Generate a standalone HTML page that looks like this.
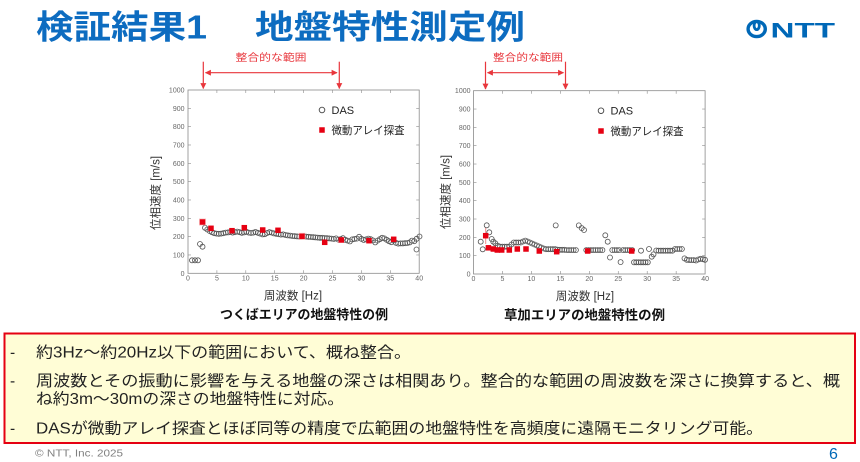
<!DOCTYPE html>
<html><head><meta charset="utf-8"><style>
html,body{margin:0;padding:0;background:#fff;width:860px;height:462px;overflow:hidden}
svg{display:block}
text{font-family:"Liberation Sans","Noto Sans CJK JP",sans-serif}
</style></head><body>
<svg width="860" height="462" viewBox="0 0 860 462" xmlns="http://www.w3.org/2000/svg">
<defs>
<rect id="sq" x="-2.75" y="-2.75" width="5.5" height="5.5" fill="#e60012"/>
<marker id="ah" viewBox="0 0 10 10" refX="9" refY="5" markerWidth="5" markerHeight="5" orient="auto-start-reverse"><path d="M0,0 L10,5 L0,10 z" fill="#e8363c"/></marker>
</defs>
<rect width="860" height="462" fill="#fff"/>

<!-- Title -->
<text x="36" y="38.5" font-size="33" font-weight="bold" fill="#0d6cc0" textLength="171" lengthAdjust="spacingAndGlyphs">検証結果1</text>
<text x="255" y="38.5" font-size="33" font-weight="bold" fill="#0d6cc0" textLength="270" lengthAdjust="spacingAndGlyphs">地盤特性測定例</text>

<!-- NTT logo -->
<ellipse cx="756.7" cy="29" rx="8.6" ry="7.6" fill="none" stroke="#0068b7" stroke-width="3.4"/>
<ellipse cx="756.7" cy="25.6" rx="2.6" ry="4" fill="none" stroke="#0068b7" stroke-width="2.8"/>
<text x="770.5" y="37.4" font-size="21.5" font-weight="bold" fill="#0068b7" textLength="64.5" lengthAdjust="spacingAndGlyphs">NTT</text>

<!-- Range annotations -->
<g stroke="#e8363c" stroke-width="1.2" fill="none">
<line x1="203.3" y1="61.7" x2="203.3" y2="88.5" marker-end="url(#ah)"/>
<line x1="339.3" y1="61.7" x2="339.3" y2="88.5" marker-end="url(#ah)"/>
<line x1="205.5" y1="72.7" x2="337" y2="72.7" marker-start="url(#ah)" marker-end="url(#ah)"/>
<line x1="485.5" y1="61.7" x2="485.5" y2="89" marker-end="url(#ah)"/>
<line x1="565.5" y1="61.7" x2="565.5" y2="89" marker-end="url(#ah)"/>
<line x1="487.5" y1="72.7" x2="563.5" y2="72.7" marker-start="url(#ah)" marker-end="url(#ah)"/>
</g>
<text x="235.5" y="61" font-size="10" fill="#e8363c" textLength="71" lengthAdjust="spacingAndGlyphs">整合的な範囲</text>
<text x="493" y="61" font-size="10" fill="#e8363c" textLength="70" lengthAdjust="spacingAndGlyphs">整合的な範囲</text>

<!-- ============ LEFT CHART ============ -->
<rect x="188" y="90" width="231.2" height="183.3" fill="none" stroke="#8a8a8a" stroke-width="0.8"/>
<g stroke="#8a8a8a" stroke-width="0.6">
<line x1="188" y1="254.97" x2="191" y2="254.97"/><line x1="188" y1="236.64" x2="191" y2="236.64"/><line x1="188" y1="218.31" x2="191" y2="218.31"/><line x1="188" y1="199.98" x2="191" y2="199.98"/><line x1="188" y1="181.65" x2="191" y2="181.65"/><line x1="188" y1="163.32" x2="191" y2="163.32"/><line x1="188" y1="144.99" x2="191" y2="144.99"/><line x1="188" y1="126.66" x2="191" y2="126.66"/><line x1="188" y1="108.33" x2="191" y2="108.33"/>
<line x1="419.2" y1="254.97" x2="416.2" y2="254.97"/><line x1="419.2" y1="236.64" x2="416.2" y2="236.64"/><line x1="419.2" y1="218.31" x2="416.2" y2="218.31"/><line x1="419.2" y1="199.98" x2="416.2" y2="199.98"/><line x1="419.2" y1="181.65" x2="416.2" y2="181.65"/><line x1="419.2" y1="163.32" x2="416.2" y2="163.32"/><line x1="419.2" y1="144.99" x2="416.2" y2="144.99"/><line x1="419.2" y1="126.66" x2="416.2" y2="126.66"/><line x1="419.2" y1="108.33" x2="416.2" y2="108.33"/>
<line x1="216.9" y1="273.3" x2="216.9" y2="270.3"/><line x1="245.8" y1="273.3" x2="245.8" y2="270.3"/><line x1="274.7" y1="273.3" x2="274.7" y2="270.3"/><line x1="303.6" y1="273.3" x2="303.6" y2="270.3"/><line x1="332.5" y1="273.3" x2="332.5" y2="270.3"/><line x1="361.4" y1="273.3" x2="361.4" y2="270.3"/><line x1="390.3" y1="273.3" x2="390.3" y2="270.3"/>
<line x1="216.9" y1="90" x2="216.9" y2="93"/><line x1="245.8" y1="90" x2="245.8" y2="93"/><line x1="274.7" y1="90" x2="274.7" y2="93"/><line x1="303.6" y1="90" x2="303.6" y2="93"/><line x1="332.5" y1="90" x2="332.5" y2="93"/><line x1="361.4" y1="90" x2="361.4" y2="93"/><line x1="390.3" y1="90" x2="390.3" y2="93"/>
</g>
<g font-size="7" fill="#666" text-anchor="end">
<text x="184.5" y="275.8">0</text><text x="184.5" y="257.5">100</text><text x="184.5" y="239.1">200</text><text x="184.5" y="220.8">300</text><text x="184.5" y="202.5">400</text><text x="184.5" y="184.2">500</text><text x="184.5" y="165.8">600</text><text x="184.5" y="147.5">700</text><text x="184.5" y="129.2">800</text><text x="184.5" y="110.8">900</text><text x="184.5" y="92.5">1000</text>
</g>
<g font-size="7" fill="#666" text-anchor="middle">
<text x="188" y="280.5">0</text><text x="216.9" y="280.5">5</text><text x="245.8" y="280.5">10</text><text x="274.7" y="280.5">15</text><text x="303.6" y="280.5">20</text><text x="332.5" y="280.5">25</text><text x="361.4" y="280.5">30</text><text x="390.3" y="280.5">35</text><text x="419.2" y="280.5">40</text>
</g>
<text transform="translate(159.5,193) rotate(-90)" font-size="11.5" fill="#333" text-anchor="middle">位相速度 [m/s]</text>
<text x="293" y="299.5" font-size="11.5" fill="#333" text-anchor="middle">周波数 [Hz]</text>
<text x="220" y="319" font-size="13" font-weight="bold" fill="#111" textLength="168" lengthAdjust="spacingAndGlyphs">つくばエリアの地盤特性の例</text>
<!-- legend -->
<circle cx="322" cy="110" r="2.8" fill="none" stroke="#444" stroke-width="0.9"/>
<text x="331.5" y="114" font-size="11" fill="#222">DAS</text>
<use href="#sq" x="322" y="130"/>
<text x="331.5" y="134" font-size="11" fill="#222" textLength="73" lengthAdjust="spacingAndGlyphs">微動アレイ探査</text>
<!-- left DAS -->
<g fill="none" stroke="#555" stroke-width="0.8">
<circle cx="192" cy="260.3" r="2.5"/><circle cx="195" cy="260.3" r="2.5"/><circle cx="198" cy="260.3" r="2.5"/><circle cx="200" cy="244" r="2.5"/><circle cx="202.5" cy="246.7" r="2.5"/>
<circle cx="205" cy="227.8" r="2.5"/><circle cx="207.3" cy="229.5" r="2.5"/><circle cx="209.6" cy="231" r="2.5"/><circle cx="211.9" cy="232.2" r="2.5"/><circle cx="214.2" cy="233.2" r="2.5"/><circle cx="216.5" cy="233.6" r="2.5"/><circle cx="218.8" cy="233.8" r="2.5"/><circle cx="221.1" cy="233.6" r="2.5"/><circle cx="223.4" cy="233.2" r="2.5"/><circle cx="225.7" cy="232.6" r="2.5"/><circle cx="228" cy="232.4" r="2.5"/><circle cx="230.3" cy="232" r="2.5"/><circle cx="232.6" cy="232.6" r="2.5"/><circle cx="234.9" cy="232.2" r="2.5"/><circle cx="237.2" cy="231.6" r="2.5"/><circle cx="239.5" cy="232.2" r="2.5"/><circle cx="241.8" cy="232.8" r="2.5"/><circle cx="244.1" cy="232.4" r="2.5"/><circle cx="246.4" cy="231.8" r="2.5"/><circle cx="248.7" cy="232.6" r="2.5"/><circle cx="251" cy="233" r="2.5"/><circle cx="253.3" cy="232.6" r="2.5"/><circle cx="255.6" cy="232" r="2.5"/><circle cx="257.9" cy="232.8" r="2.5"/><circle cx="260.2" cy="233.6" r="2.5"/><circle cx="262.5" cy="234.4" r="2.5"/><circle cx="264.8" cy="234.2" r="2.5"/><circle cx="267.1" cy="233" r="2.5"/><circle cx="269.4" cy="232.2" r="2.5"/><circle cx="271.7" cy="232.6" r="2.5"/><circle cx="274" cy="233.4" r="2.5"/><circle cx="276.3" cy="233.8" r="2.5"/><circle cx="278.6" cy="234.2" r="2.5"/><circle cx="280.9" cy="234.6" r="2.5"/><circle cx="283.2" cy="234.4" r="2.5"/><circle cx="285.5" cy="235" r="2.5"/><circle cx="287.8" cy="235.4" r="2.5"/><circle cx="290.1" cy="235.6" r="2.5"/><circle cx="292.4" cy="236" r="2.5"/><circle cx="294.7" cy="236.2" r="2.5"/><circle cx="297" cy="236.4" r="2.5"/><circle cx="299.3" cy="236.6" r="2.5"/><circle cx="301.6" cy="236.4" r="2.5"/><circle cx="303.9" cy="236.2" r="2.5"/><circle cx="306.2" cy="236.6" r="2.5"/><circle cx="308.5" cy="236.8" r="2.5"/><circle cx="310.8" cy="237" r="2.5"/><circle cx="313.1" cy="237.2" r="2.5"/><circle cx="315.4" cy="237.4" r="2.5"/><circle cx="317.7" cy="237.6" r="2.5"/><circle cx="320" cy="237.8" r="2.5"/><circle cx="322.3" cy="237.8" r="2.5"/><circle cx="324.6" cy="238" r="2.5"/><circle cx="326.9" cy="238.2" r="2.5"/><circle cx="329.2" cy="238.4" r="2.5"/><circle cx="331.5" cy="238.6" r="2.5"/><circle cx="333.8" cy="239" r="2.5"/><circle cx="336.1" cy="238.4" r="2.5"/><circle cx="338.4" cy="239.6" r="2.5"/><circle cx="340.7" cy="239.2" r="2.5"/><circle cx="343" cy="238.2" r="2.5"/><circle cx="345.3" cy="239.8" r="2.5"/><circle cx="347.6" cy="240.6" r="2.5"/><circle cx="349.9" cy="241.4" r="2.5"/><circle cx="352.2" cy="239.4" r="2.5"/><circle cx="354.5" cy="239" r="2.5"/><circle cx="356.8" cy="238.6" r="2.5"/><circle cx="359.1" cy="236.8" r="2.5"/><circle cx="361.4" cy="238.8" r="2.5"/><circle cx="363.7" cy="240" r="2.5"/><circle cx="366" cy="239.4" r="2.5"/><circle cx="368.3" cy="238.6" r="2.5"/><circle cx="370.6" cy="239.2" r="2.5"/><circle cx="372.9" cy="240.4" r="2.5"/><circle cx="375.2" cy="242.4" r="2.5"/><circle cx="377.5" cy="240.6" r="2.5"/><circle cx="379.8" cy="239.2" r="2.5"/><circle cx="382.1" cy="237.8" r="2.5"/><circle cx="384.4" cy="238.4" r="2.5"/><circle cx="386.7" cy="239.8" r="2.5"/><circle cx="389" cy="241.2" r="2.5"/><circle cx="391.3" cy="242.2" r="2.5"/><circle cx="393.6" cy="240.4" r="2.5"/><circle cx="395.9" cy="242.8" r="2.5"/><circle cx="398.2" cy="243.6" r="2.5"/><circle cx="400.5" cy="243.4" r="2.5"/><circle cx="402.8" cy="243.4" r="2.5"/><circle cx="405.1" cy="243.2" r="2.5"/><circle cx="407.4" cy="243" r="2.5"/><circle cx="409.7" cy="242.4" r="2.5"/><circle cx="412" cy="240.6" r="2.5"/><circle cx="414.3" cy="241.2" r="2.5"/><circle cx="416.6" cy="238.8" r="2.5"/><circle cx="419.5" cy="236.5" r="2.5"/><circle cx="416.5" cy="249.5" r="2.5"/>
</g>
<!-- left squares -->
<g fill="#f6b4b4" opacity="0.7">
<rect x="298.5" y="232.8" width="7" height="7"/><rect x="199" y="218.5" width="7" height="7"/>
</g>
<use href="#sq" x="202.5" y="222"/><use href="#sq" x="211" y="228.3"/><use href="#sq" x="232" y="230.7"/><use href="#sq" x="244.3" y="227.7"/><use href="#sq" x="262.7" y="230"/><use href="#sq" x="278" y="230.3"/><use href="#sq" x="302" y="236.3"/><use href="#sq" x="324.7" y="242.3"/><use href="#sq" x="341.3" y="240"/><use href="#sq" x="369" y="240.7"/><use href="#sq" x="393.7" y="239.3"/>

<!-- ============ RIGHT CHART ============ -->
<rect x="473.5" y="90.7" width="231.6" height="183.3" fill="none" stroke="#8a8a8a" stroke-width="0.8"/>
<g stroke="#8a8a8a" stroke-width="0.6">
<line x1="473.5" y1="255.67" x2="476.5" y2="255.67"/><line x1="473.5" y1="237.34" x2="476.5" y2="237.34"/><line x1="473.5" y1="219.01" x2="476.5" y2="219.01"/><line x1="473.5" y1="200.68" x2="476.5" y2="200.68"/><line x1="473.5" y1="182.35" x2="476.5" y2="182.35"/><line x1="473.5" y1="164.02" x2="476.5" y2="164.02"/><line x1="473.5" y1="145.69" x2="476.5" y2="145.69"/><line x1="473.5" y1="127.36" x2="476.5" y2="127.36"/><line x1="473.5" y1="109.03" x2="476.5" y2="109.03"/>
<line x1="705.1" y1="255.67" x2="702.1" y2="255.67"/><line x1="705.1" y1="237.34" x2="702.1" y2="237.34"/><line x1="705.1" y1="219.01" x2="702.1" y2="219.01"/><line x1="705.1" y1="200.68" x2="702.1" y2="200.68"/><line x1="705.1" y1="182.35" x2="702.1" y2="182.35"/><line x1="705.1" y1="164.02" x2="702.1" y2="164.02"/><line x1="705.1" y1="145.69" x2="702.1" y2="145.69"/><line x1="705.1" y1="127.36" x2="702.1" y2="127.36"/><line x1="705.1" y1="109.03" x2="702.1" y2="109.03"/>
<line x1="502.45" y1="274" x2="502.45" y2="271"/><line x1="531.4" y1="274" x2="531.4" y2="271"/><line x1="560.35" y1="274" x2="560.35" y2="271"/><line x1="589.3" y1="274" x2="589.3" y2="271"/><line x1="618.25" y1="274" x2="618.25" y2="271"/><line x1="647.2" y1="274" x2="647.2" y2="271"/><line x1="676.15" y1="274" x2="676.15" y2="271"/>
<line x1="502.45" y1="90.7" x2="502.45" y2="93.7"/><line x1="531.4" y1="90.7" x2="531.4" y2="93.7"/><line x1="560.35" y1="90.7" x2="560.35" y2="93.7"/><line x1="589.3" y1="90.7" x2="589.3" y2="93.7"/><line x1="618.25" y1="90.7" x2="618.25" y2="93.7"/><line x1="647.2" y1="90.7" x2="647.2" y2="93.7"/><line x1="676.15" y1="90.7" x2="676.15" y2="93.7"/>
</g>
<g font-size="7" fill="#666" text-anchor="end">
<text x="470.5" y="276.5">0</text><text x="470.5" y="258.2">100</text><text x="470.5" y="239.8">200</text><text x="470.5" y="221.5">300</text><text x="470.5" y="203.2">400</text><text x="470.5" y="184.9">500</text><text x="470.5" y="166.5">600</text><text x="470.5" y="148.2">700</text><text x="470.5" y="129.9">800</text><text x="470.5" y="111.5">900</text><text x="470.5" y="93.2">1000</text>
</g>
<g font-size="7" fill="#666" text-anchor="middle">
<text x="473.5" y="281">0</text><text x="502.45" y="281">5</text><text x="531.4" y="281">10</text><text x="560.35" y="281">15</text><text x="589.3" y="281">20</text><text x="618.25" y="281">25</text><text x="647.2" y="281">30</text><text x="676.15" y="281">35</text><text x="705.1" y="281">40</text>
</g>
<text transform="translate(449.5,192) rotate(-90)" font-size="11.5" fill="#333" text-anchor="middle">位相速度 [m/s]</text>
<text x="585" y="300" font-size="11.5" fill="#333" text-anchor="middle">周波数 [Hz]</text>
<text x="504" y="319.5" font-size="13" font-weight="bold" fill="#111" textLength="161" lengthAdjust="spacingAndGlyphs">草加エリアの地盤特性の例</text>
<!-- legend -->
<circle cx="601" cy="110.7" r="2.8" fill="none" stroke="#444" stroke-width="0.9"/>
<text x="610.5" y="114.7" font-size="11" fill="#222">DAS</text>
<use href="#sq" x="601" y="131"/>
<text x="610.5" y="135" font-size="11" fill="#222" textLength="73" lengthAdjust="spacingAndGlyphs">微動アレイ探査</text>
<!-- error bar -->
<line x1="485.7" y1="227.5" x2="485.7" y2="244" stroke="#f08a8a" stroke-width="1"/>
<!-- right DAS -->
<g fill="none" stroke="#555" stroke-width="0.8">
<circle cx="480.7" cy="241.7" r="2.5"/><circle cx="482.7" cy="249.3" r="2.5"/><circle cx="486.7" cy="225.3" r="2.5"/><circle cx="489.3" cy="232.3" r="2.5"/>
<circle cx="491.7" cy="239" r="2.5"/><circle cx="493.3" cy="241.7" r="2.5"/><circle cx="495.3" cy="243.3" r="2.5"/><circle cx="497.7" cy="245.7" r="2.5"/><circle cx="500" cy="246.7" r="2.5"/><circle cx="502.3" cy="246.7" r="2.5"/><circle cx="504.6" cy="246.7" r="2.5"/><circle cx="506.9" cy="246.7" r="2.5"/><circle cx="509.2" cy="246.7" r="2.5"/>
<circle cx="511.5" cy="244.5" r="2.5"/><circle cx="513.8" cy="242.5" r="2.5"/><circle cx="516.1" cy="242.5" r="2.5"/><circle cx="518.4" cy="242.5" r="2.5"/><circle cx="520.7" cy="242.5" r="2.5"/><circle cx="523" cy="241.5" r="2.5"/><circle cx="525.3" cy="240.6" r="2.5"/><circle cx="527.6" cy="241.5" r="2.5"/><circle cx="529.9" cy="242.5" r="2.5"/><circle cx="532.2" cy="243.5" r="2.5"/><circle cx="534.5" cy="244.5" r="2.5"/><circle cx="536.8" cy="245.5" r="2.5"/><circle cx="539.1" cy="246.5" r="2.5"/><circle cx="541.4" cy="247.5" r="2.5"/><circle cx="543.7" cy="248.5" r="2.5"/><circle cx="546" cy="249.2" r="2.5"/><circle cx="548.3" cy="249.2" r="2.5"/><circle cx="550.6" cy="249.2" r="2.5"/><circle cx="552.9" cy="249.2" r="2.5"/><circle cx="555.2" cy="249.2" r="2.5"/><circle cx="557.5" cy="249.6" r="2.5"/>
<circle cx="555.7" cy="225.4" r="2.5"/>
<circle cx="559.8" cy="249.8" r="2.5"/><circle cx="562.1" cy="249.8" r="2.5"/><circle cx="564.4" cy="249.8" r="2.5"/><circle cx="566.7" cy="250.1" r="2.5"/><circle cx="569" cy="250.1" r="2.5"/><circle cx="571.3" cy="250.1" r="2.5"/><circle cx="573.6" cy="250.1" r="2.5"/><circle cx="575.9" cy="250.1" r="2.5"/>
<circle cx="578.8" cy="225.4" r="2.5"/><circle cx="581.7" cy="228.1" r="2.5"/><circle cx="584" cy="230" r="2.5"/>
<circle cx="586.3" cy="250.1" r="2.5"/><circle cx="588.6" cy="250.1" r="2.5"/><circle cx="590.9" cy="250.1" r="2.5"/><circle cx="593.2" cy="250.1" r="2.5"/><circle cx="595.5" cy="250.1" r="2.5"/><circle cx="597.8" cy="250.1" r="2.5"/><circle cx="600.1" cy="250.1" r="2.5"/><circle cx="602.4" cy="250.1" r="2.5"/>
<circle cx="605.3" cy="235.3" r="2.5"/><circle cx="607.7" cy="241.7" r="2.5"/><circle cx="610" cy="257.5" r="2.5"/>
<circle cx="612.3" cy="250.1" r="2.5"/><circle cx="614.6" cy="250.1" r="2.5"/><circle cx="616.9" cy="250.1" r="2.5"/><circle cx="619.2" cy="250.1" r="2.5"/>
<circle cx="620.6" cy="262.1" r="2.5"/>
<circle cx="623" cy="250.1" r="2.5"/><circle cx="625.3" cy="250.1" r="2.5"/><circle cx="627.6" cy="250.1" r="2.5"/><circle cx="629.9" cy="250.1" r="2.5"/><circle cx="632.2" cy="250.1" r="2.5"/>
<circle cx="634" cy="262.3" r="2.5"/><circle cx="636.3" cy="262.3" r="2.5"/><circle cx="638.6" cy="262.3" r="2.5"/><circle cx="640.9" cy="262.3" r="2.5"/><circle cx="643.2" cy="262.3" r="2.5"/><circle cx="645.5" cy="262.3" r="2.5"/><circle cx="647.8" cy="262.3" r="2.5"/>
<circle cx="641" cy="250.7" r="2.5"/><circle cx="649" cy="249" r="2.5"/>
<circle cx="651.7" cy="256.7" r="2.5"/><circle cx="653.5" cy="254.4" r="2.5"/><circle cx="656.3" cy="250.5" r="2.5"/>
<circle cx="658.6" cy="250.7" r="2.5"/><circle cx="660.9" cy="250.7" r="2.5"/><circle cx="663.2" cy="250.7" r="2.5"/><circle cx="665.5" cy="250.7" r="2.5"/><circle cx="667.8" cy="250.7" r="2.5"/><circle cx="670.1" cy="250.7" r="2.5"/><circle cx="672.4" cy="250.7" r="2.5"/>
<circle cx="675" cy="249" r="2.5"/><circle cx="677.3" cy="249" r="2.5"/><circle cx="679.6" cy="249" r="2.5"/><circle cx="681.9" cy="249" r="2.5"/>
<circle cx="684.5" cy="258.4" r="2.5"/><circle cx="686.8" cy="259.8" r="2.5"/><circle cx="689.1" cy="260.1" r="2.5"/><circle cx="691.4" cy="260.1" r="2.5"/><circle cx="693.7" cy="260.1" r="2.5"/><circle cx="696" cy="260.5" r="2.5"/><circle cx="698.3" cy="259.5" r="2.5"/><circle cx="700.6" cy="258.8" r="2.5"/><circle cx="702.9" cy="259.2" r="2.5"/><circle cx="705" cy="259.8" r="2.5"/>
</g>
<use href="#sq" x="485.7" y="235.7"/><use href="#sq" x="488.4" y="247.8"/><use href="#sq" x="493.3" y="249"/><use href="#sq" x="497.3" y="250"/><use href="#sq" x="501.7" y="250"/><use href="#sq" x="509.3" y="250"/><use href="#sq" x="517.3" y="249"/><use href="#sq" x="526" y="249"/><use href="#sq" x="539.3" y="251"/><use href="#sq" x="556.7" y="251.7"/><use href="#sq" x="587.7" y="251"/><use href="#sq" x="631.7" y="251"/>

<!-- ============ Bottom box ============ -->
<rect x="4.5" y="333.5" width="850.5" height="109.5" fill="#fffdd6" stroke="#e50012" stroke-width="2"/>
<g font-size="15.5" fill="#222">
<text x="10" y="357.5">-</text>
<text x="36" y="357.5" textLength="375" lengthAdjust="spacingAndGlyphs">約3Hz〜約20Hz以下の範囲において、概ね整合。</text>
<text x="10" y="385.8">-</text>
<text x="36" y="385.8" textLength="804" lengthAdjust="spacingAndGlyphs">周波数とその振動に影響を与える地盤の深さは相関あり。整合的な範囲の周波数を深さに換算すると、概</text>
<text x="36" y="404.2" textLength="308" lengthAdjust="spacingAndGlyphs">ね約3m〜30mの深さの地盤特性に対応。</text>
<text x="10" y="433.3">-</text>
<text x="36" y="433.3" textLength="727" lengthAdjust="spacingAndGlyphs">DASが微動アレイ探査とほぼ同等の精度で広範囲の地盤特性を高頻度に遠隔モニタリング可能。</text>
</g>

<!-- Footer -->
<text x="35" y="456.5" font-size="10.5" fill="#808080" textLength="88" lengthAdjust="spacingAndGlyphs">© NTT, Inc. 2025</text>
<text x="829" y="459" font-size="16" fill="#0068b7">6</text>
</svg>
</body></html>
